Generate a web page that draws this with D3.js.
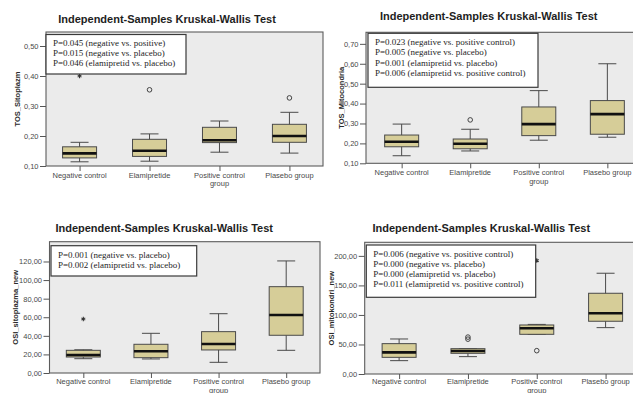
<!DOCTYPE html>
<html>
<head>
<meta charset="utf-8">
<script src="https://cdn.jsdelivr.net/npm/d3@7"></script>
<style>
  html, body { margin: 0; padding: 0; background: #fff; }
  svg { display: block; }
  .title { font-family: "Liberation Sans", Arial, sans-serif; font-weight: bold; font-size: 11px; fill: #1e1e1e; }
  .ylab { font-family: "Liberation Sans", Arial, sans-serif; font-weight: bold; font-size: 7.5px; fill: #2a2a2a; }
  .tick text { font-family: "Liberation Sans", Arial, sans-serif; font-size: 7.5px; fill: #4a4a4a; }
  .tick line { stroke: #555; }
  .legend text { font-family: "Liberation Serif", "Times New Roman", serif; font-size: 9px; fill: #1e1e1e; }
</style>
</head>
<body>
<script>
// Groups compared in every panel
const groups = ["Negative control", "Elamipretide", "Positive control\ngroup", "Plasebo group"];

// Five-number summaries per group: [lower whisker, Q1, median, Q3, upper whisker]
const tosSitoplazm = [
  [0.114, 0.127, 0.142, 0.164, 0.179],
  [0.116, 0.132, 0.151, 0.189, 0.207],
  [0.146, 0.178, 0.186, 0.229, 0.250],
  [0.143, 0.179, 0.200, 0.239, 0.279]
];
const tosMitocondria = [
  [0.138, 0.183, 0.208, 0.242, 0.297],
  [0.162, 0.173, 0.198, 0.222, 0.271],
  [0.216, 0.239, 0.297, 0.383, 0.465],
  [0.231, 0.246, 0.347, 0.415, 0.600]
];
const osiSitoplazma = [
  [15.4, 17.2, 19.4, 24.4, 25.0],
  [15.1, 16.5, 23.4, 30.9, 42.7],
  [11.5, 24.8, 31.2, 44.5, 63.8],
  [24.4, 40.6, 62.4, 92.9, 120.6]
];
const osiMitokondri = [
  [22.6, 28.2, 36.7, 51.4, 59.3],
  [29.4, 35.0, 39.0, 42.9, 42.9],
  [67.2, 67.2, 77.4, 83.0, 84.0],
  [78.5, 89.3, 102.8, 136.7, 170.6]
];

// Outlying cases: [group index, value, marker] (o = outlier, * = extreme)
const tosSitoplazmOut = [[0, 0.400, "*"], [1, 0.354, "o"], [3, 0.327, "o"]];
const tosMitocondriaOut = [[1, 0.318, "o"]];
const osiSitoplazmOut = [[0, 58.1, "*"]];
const osiMitokondriOut = [[1, 59.0, "o"], [1, 62.5, "o"], [2, 39.5, "o"], [2, 192.0, "*"]];

// Y tick values
const tosSitoplazmTicks = [0.10, 0.20, 0.30, 0.40, 0.50];
const tosMitocondriaTicks = [0.10, 0.20, 0.30, 0.40, 0.50, 0.60, 0.70];
const osiSitoplazmTicks = [0, 20, 40, 60, 80, 100, 120];
const osiMitokondriTicks = [0, 50, 100, 150, 200];

// Pairwise comparison notes
const tosSitoplazmNotes = [
  "P=0.045 (negative vs. positive)",
  "P=0.015 (negative vs. placebo)",
  "P=0.046 (elamipretid vs. placebo)"
];
const tosMitocondriaNotes = [
  "P=0.023 (negative vs. positive control)",
  "P=0.005 (negative vs. placebo)",
  "P=0.001 (elamipretid vs. placebo)",
  "P=0.006 (elamipretid vs. positive control)"
];
const osiSitoplazmNotes = [
  "P=0.001 (negative vs. placebo)",
  "P=0.002 (elamipretid vs. placebo)"
];
const osiMitokondriNotes = [
  "P=0.006 (negative vs. positive control)",
  "P=0.000 (negative vs. placebo)",
  "P=0.000 (elamipretid vs. placebo)",
  "P=0.011 (elamipretid vs. positive control)"
];

const chartTitle = "Independent-Samples Kruskal-Wallis Test";

// Panel layout
const panels = [
  { ylabel: "TOS_Sitoplazm", stats: tosSitoplazm, out: tosSitoplazmOut, ticks: tosSitoplazmTicks, notes: tosSitoplazmNotes,
    domain: [0.10, 0.5467], plot: { x0: 46, x1: 323, y0: 32, y1: 166 }, pad: 0.48,
    title: { x: 167, y: 22.5 }, ylabX: 17, legend: { x: 46, y: 34.5, w: 140, h: 39.5 }, lineH: 9.8, xLabY: 177.5 },
  { ylabel: "TOS_Mitocondria", stats: tosMitocondria, out: tosMitocondriaOut, ticks: tosMitocondriaTicks, notes: tosMitocondriaNotes,
    domain: [0.10, 0.758], plot: { x0: 366, x1: 643, y0: 32.3, y1: 163.3 }, pad: 0.52,
    title: { x: 488.7, y: 20 }, ylabX: 341, legend: { x: 368, y: 33.3, w: 170, h: 54 }, lineH: 10.2, xLabY: 175 },
  { ylabel: "OSI_sitoplazma_new", stats: osiSitoplazma, out: osiSitoplazmOut, ticks: osiSitoplazmTicks, notes: osiSitoplazmNotes,
    domain: [0, 141.3], plot: { x0: 49.5, x1: 320, y0: 241.7, y1: 373 }, pad: 0.5,
    title: { x: 164.2, y: 232.2 }, ylabX: 15, legend: { x: 51, y: 245.7, w: 145.7, h: 30.3 }, lineH: 10.6, xLabY: 384 },
  { ylabel: "OSI_mitokondri_new", stats: osiMitokondri, out: osiMitokondriOut, ticks: osiMitokondriTicks, notes: osiMitokondriNotes,
    domain: [0, 223], plot: { x0: 364.7, x1: 640, y0: 242.3, y1: 374 }, pad: 0.5,
    title: { x: 481.3, y: 231.7 }, ylabX: 331, legend: { x: 366.3, y: 245, w: 169.4, h: 52.3 }, lineH: 10.2, xLabY: 384 }
];

const svg = d3.select("body").append("svg").attr("width", 633).attr("height", 393);

const fmt = v => d3.format(".2f")(v).replace(".", ",");
const boxFill = "#d6cd98";
const boxW = 34, capW = 18;

panels.forEach(p => {
  const g = svg.append("g");
  const x = d3.scalePoint().domain(d3.range(groups.length)).range([p.plot.x0, p.plot.x1]).padding(p.pad);
  const y = d3.scaleLinear().domain(p.domain).range([p.plot.y1, p.plot.y0]);

  g.append("text").attr("class", "title").attr("x", p.title.x).attr("y", p.title.y)
    .attr("text-anchor", "middle").text(chartTitle);

  // plot area
  g.append("rect").attr("x", p.plot.x0).attr("y", p.plot.y0)
    .attr("width", p.plot.x1 - p.plot.x0).attr("height", p.plot.y1 - p.plot.y0)
    .attr("fill", "#ebebeb").attr("stroke", "#5c5c5c").attr("stroke-width", 1.1);

  // y axis
  const ya = g.append("g").attr("transform", `translate(${p.plot.x0},0)`)
    .call(d3.axisLeft(y).tickValues(p.ticks).tickSize(6).tickPadding(1.5).tickFormat(fmt));
  ya.select(".domain").remove();

  // x axis ticks and labels
  const xa = g.append("g").attr("transform", `translate(0,${p.plot.y1})`)
    .call(d3.axisBottom(x).tickSize(5).tickFormat(""));
  xa.select(".domain").remove();
  groups.forEach((name, i) => {
    const t = g.append("text").attr("x", x(i)).attr("y", p.xLabY).attr("text-anchor", "middle")
      .style("font-family", '"Liberation Sans", Arial, sans-serif').style("font-size", "7.5px").attr("fill", "#4a4a4a");
    name.split("\n").forEach((s, k) => {
      t.append("tspan").attr("x", x(i)).attr("dy", k === 0 ? 0 : 8.5).text(s);
    });
  });

  // y axis title
  const cy = (p.plot.y0 + p.plot.y1) / 2;
  g.append("text").attr("class", "ylab").attr("text-anchor", "middle")
    .attr("transform", `translate(${p.ylabX},${cy}) rotate(-90)`).attr("dy", "0.35em").text(p.ylabel);

  // boxes
  const bx = g.append("g").selectAll("g").data(p.stats).join("g");
  bx.append("line").attr("x1", (d, i) => x(i)).attr("x2", (d, i) => x(i))
    .attr("y1", d => y(d[0])).attr("y2", d => y(d[4])).attr("stroke", "#4a4a4a").attr("stroke-width", 1);
  bx.append("line").attr("x1", (d, i) => x(i) - capW / 2).attr("x2", (d, i) => x(i) + capW / 2)
    .attr("y1", d => y(d[4])).attr("y2", d => y(d[4])).attr("stroke", "#4a4a4a").attr("stroke-width", 1);
  bx.append("line").attr("x1", (d, i) => x(i) - capW / 2).attr("x2", (d, i) => x(i) + capW / 2)
    .attr("y1", d => y(d[0])).attr("y2", d => y(d[0])).attr("stroke", "#4a4a4a").attr("stroke-width", 1);
  bx.append("rect").attr("x", (d, i) => x(i) - boxW / 2).attr("width", boxW)
    .attr("y", d => y(d[3])).attr("height", d => Math.max(1, y(d[1]) - y(d[3])))
    .attr("fill", boxFill).attr("stroke", "#4a4a4a").attr("stroke-width", 1);
  bx.append("line").attr("x1", (d, i) => x(i) - boxW / 2).attr("x2", (d, i) => x(i) + boxW / 2)
    .attr("y1", d => y(d[2])).attr("y2", d => y(d[2])).attr("stroke", "#111").attr("stroke-width", 2.6);

  // outlying cases
  p.out.forEach(([i, v, m]) => {
    if (m === "o") {
      g.append("circle").attr("cx", x(i)).attr("cy", y(v)).attr("r", 2.3)
        .attr("fill", "none").attr("stroke", "#444").attr("stroke-width", 1);
    } else {
      g.append("path").attr("transform", `translate(${x(i)},${y(v)})`)
        .attr("d", d3.symbol(d3.symbolAsterisk, 14)())
        .attr("fill", "none").attr("stroke", "#333").attr("stroke-width", 1.1);
    }
  });

  // comparison notes
  const lg = g.append("g").attr("class", "legend");
  lg.append("rect").attr("x", p.legend.x).attr("y", p.legend.y).attr("width", p.legend.w).attr("height", p.legend.h)
    .attr("fill", "#fff").attr("stroke", "#3a3a3a").attr("stroke-width", 1.2);
  p.notes.forEach((s, k) => {
    lg.append("text").attr("x", p.legend.x + 7).attr("y", p.legend.y + 11.8 + k * p.lineH).text(s);
  });
});
</script>
</body>
</html>
